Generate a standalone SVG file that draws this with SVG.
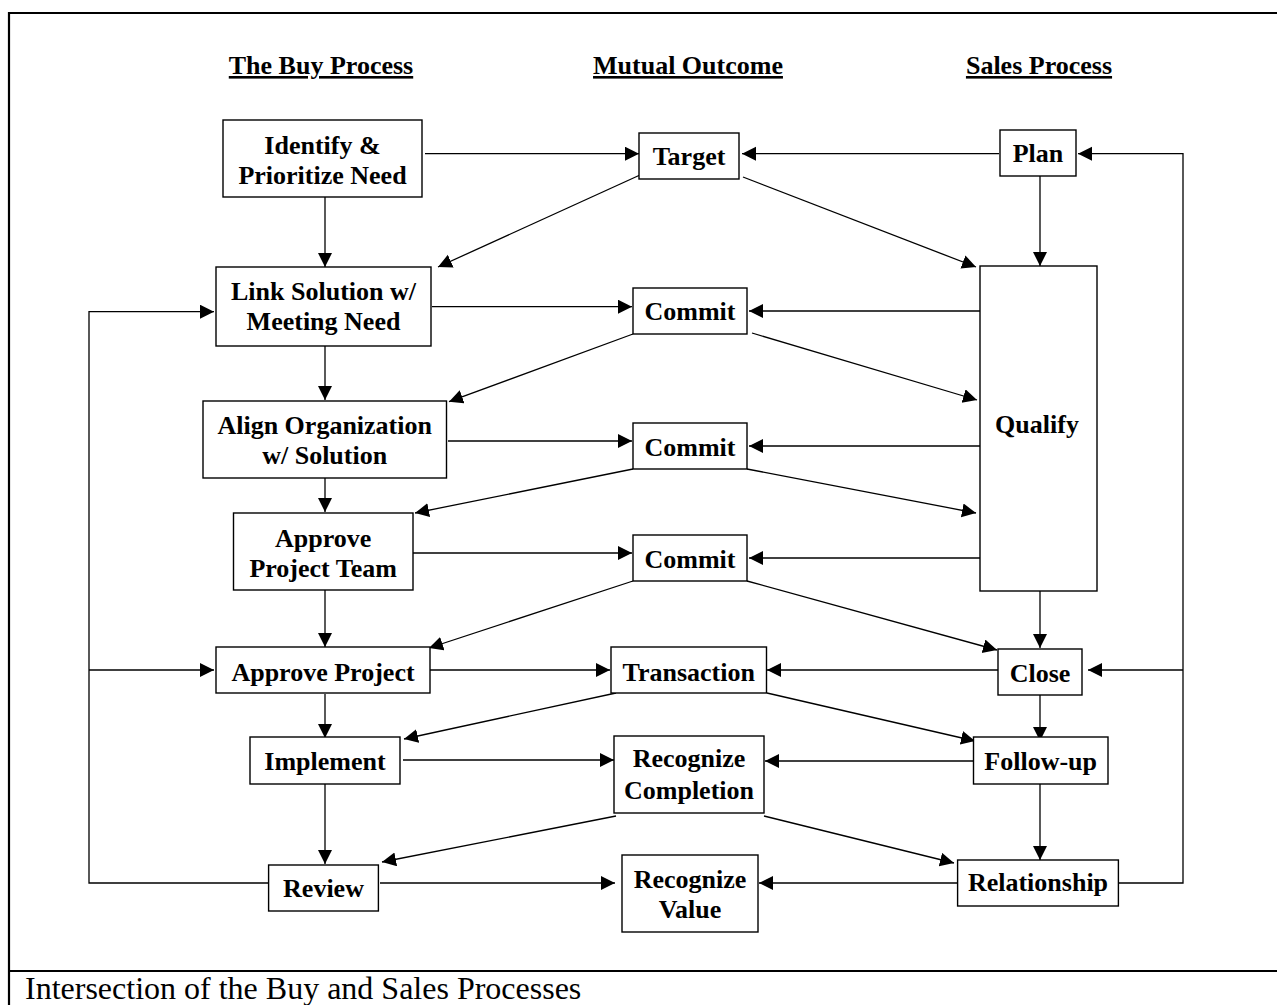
<svg xmlns="http://www.w3.org/2000/svg" width="1277" height="1005" viewBox="0 0 1277 1005">
<defs>
<style>
.box{fill:#fff;stroke:#000;stroke-width:1.4}
.lbl{font-family:"Liberation Serif","Times New Roman",serif;font-weight:bold;font-size:26px;text-anchor:middle;fill:#000}
.hdr{font-family:"Liberation Serif","Times New Roman",serif;font-weight:bold;font-size:26px;text-anchor:middle;fill:#000;text-decoration:underline}
.cap{font-family:"Liberation Serif","Times New Roman",serif;font-size:32px;fill:#000}
.frame{fill:none;stroke:#000;stroke-width:2.2}
.ar{fill:none;stroke:#000;stroke-width:1.3;marker-end:url(#ah)}
</style>
<marker id="ah" markerUnits="userSpaceOnUse" markerWidth="15" markerHeight="15" refX="14" refY="7" orient="auto">
<path d="M0,0 L14,7 L0,14 z" fill="#000"/>
</marker>
</defs>
<rect width="1277" height="1005" fill="#fff"/>
<g id="frame">
<path class="frame" d="M1277,13 H9 V1005 M9,971 H1277"/>
</g>
<g id="headers">
<text class="hdr" x="321" y="74">The Buy Process</text>
<text class="hdr" x="688" y="74">Mutual Outcome</text>
<text class="hdr" x="1039" y="74">Sales Process</text>
</g>
<g id="connectors">
<path class="ar" d="M425,153.7 H639"/>
<path class="ar" d="M999,153.7 H742"/>
<path class="ar" d="M640,175 L438,267"/>
<path class="ar" d="M743,177 L976,267"/>
<path class="ar" d="M325,197 V267"/>
<path class="ar" d="M1040,176 V266"/>
<path class="ar" d="M1118,883 H1183 V153.7 H1078"/>
<path class="ar" d="M1183,670 H1088"/>
<path class="ar" d="M268.6,883 H89 V311.7 H214"/>
<path class="ar" d="M89,670 H214"/>
<path class="ar" d="M432,306.7 H632"/>
<path class="ar" d="M980,311 H749"/>
<path class="ar" d="M633,334 L449,401.7"/>
<path class="ar" d="M752,333 L977,400"/>
<path class="ar" d="M325,346 V400"/>
<path class="ar" d="M448,441 H632"/>
<path class="ar" d="M980,446 H749"/>
<path class="ar" d="M633,469 L415,513"/>
<path class="ar" d="M747,469 L976,513"/>
<path class="ar" d="M325,478 V512"/>
<path class="ar" d="M413,553 H632"/>
<path class="ar" d="M980,558 H749"/>
<path class="ar" d="M633,581 L429,648"/>
<path class="ar" d="M747,581 L997,650"/>
<path class="ar" d="M325,590 V647"/>
<path class="ar" d="M1040,591 V648"/>
<path class="ar" d="M430,670 H610"/>
<path class="ar" d="M998,670 H767"/>
<path class="ar" d="M616,693 L404,739"/>
<path class="ar" d="M767,693 L975,741"/>
<path class="ar" d="M325,694 V738"/>
<path class="ar" d="M1040,695 V741"/>
<path class="ar" d="M403,760 H614"/>
<path class="ar" d="M973.5,761 H765"/>
<path class="ar" d="M616,816 L382,862"/>
<path class="ar" d="M764,816 L954,863"/>
<path class="ar" d="M325,784 V864"/>
<path class="ar" d="M1040,784 V860"/>
<path class="ar" d="M380,883 H615"/>
<path class="ar" d="M957.6,883 H759"/>
</g>
<g id="identify"><rect class="box" x="223" y="120" width="199" height="77"/><text class="lbl" x="322.5" y="154">Identify &amp;</text><text class="lbl" x="322.5" y="184">Prioritize Need</text></g>
<g id="link"><rect class="box" x="216" y="267" width="215" height="79"/><text class="lbl" x="323.5" y="300">Link Solution w/</text><text class="lbl" x="323.5" y="330">Meeting Need</text></g>
<g id="align"><rect class="box" x="203" y="401" width="243.5" height="77"/><text class="lbl" x="324.7" y="434">Align Organization</text><text class="lbl" x="324.7" y="464">w/ Solution</text></g>
<g id="approve-team"><rect class="box" x="233.5" y="513" width="179.5" height="77"/><text class="lbl" x="323.2" y="547">Approve</text><text class="lbl" x="323.2" y="577">Project Team</text></g>
<g id="approve-project"><rect class="box" x="216" y="647" width="214" height="46"/><text class="lbl" x="323" y="681">Approve Project</text></g>
<g id="implement"><rect class="box" x="250" y="737" width="150" height="47"/><text class="lbl" x="325" y="770">Implement</text></g>
<g id="review"><rect class="box" x="268.6" y="865" width="109.8" height="46"/><text class="lbl" x="323.5" y="897">Review</text></g>
<g id="target"><rect class="box" x="639" y="133" width="100" height="46"/><text class="lbl" x="689" y="165">Target</text></g>
<g id="commit1"><rect class="box" x="633" y="288" width="114" height="46"/><text class="lbl" x="690" y="320">Commit</text></g>
<g id="commit2"><rect class="box" x="633" y="423" width="114" height="46"/><text class="lbl" x="690" y="456">Commit</text></g>
<g id="commit3"><rect class="box" x="633" y="535" width="114" height="46"/><text class="lbl" x="690" y="568">Commit</text></g>
<g id="transaction"><rect class="box" x="611" y="647" width="155.5" height="46"/><text class="lbl" x="688.7" y="681">Transaction</text></g>
<g id="recognize-completion"><rect class="box" x="614" y="736" width="150" height="77"/><text class="lbl" x="689" y="767">Recognize</text><text class="lbl" x="689" y="799">Completion</text></g>
<g id="recognize-value"><rect class="box" x="622" y="855" width="136" height="77"/><text class="lbl" x="690" y="888">Recognize</text><text class="lbl" x="690" y="918">Value</text></g>
<g id="plan"><rect class="box" x="1000" y="130" width="76" height="46"/><text class="lbl" x="1038" y="162">Plan</text></g>
<g id="qualify"><rect class="box" x="980" y="266" width="117" height="325"/><text class="lbl" x="1037" y="433">Qualify</text></g>
<g id="close"><rect class="box" x="998" y="649" width="84" height="46"/><text class="lbl" x="1040" y="682">Close</text></g>
<g id="follow-up"><rect class="box" x="973.5" y="737" width="134.5" height="47"/><text class="lbl" x="1040.7" y="770">Follow-up</text></g>
<g id="relationship"><rect class="box" x="957.6" y="860" width="160.8" height="46"/><text class="lbl" x="1038" y="891">Relationship</text></g>
<g id="caption"><text class="cap" x="25" y="999">Intersection of the Buy and Sales Processes</text></g>
</svg>
